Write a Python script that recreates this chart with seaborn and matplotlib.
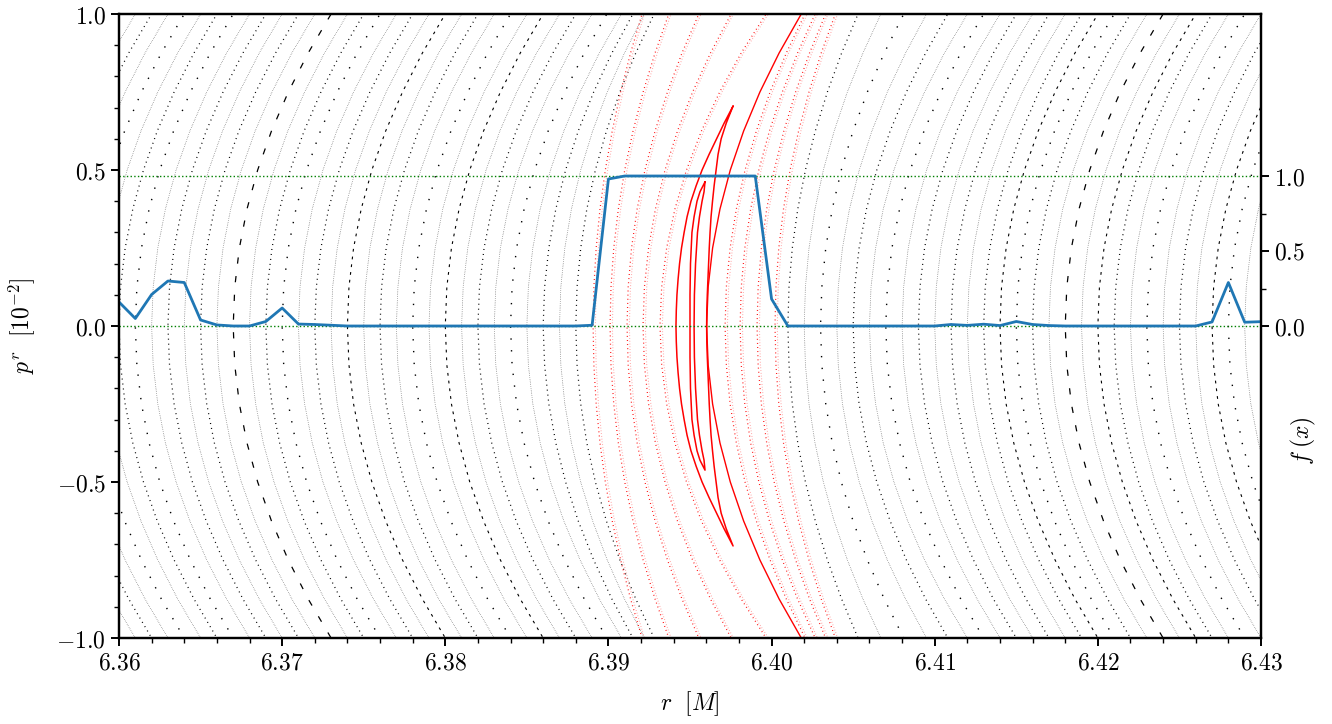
import numpy as np
import pandas as pd
import matplotlib
matplotlib.use("Agg")
import matplotlib.pyplot as plt
from matplotlib.ticker import MultipleLocator, FixedLocator, FuncFormatter
import seaborn as sns

# f(x) at the starting radius of each orbit (r = 6.360 ... 6.430)
f_r = [6.360, 6.361, 6.362, 6.363, 6.364, 6.365, 6.366, 6.367, 6.368, 6.369,
       6.370, 6.371, 6.372, 6.373, 6.374, 6.375, 6.376, 6.377, 6.378, 6.379,
       6.380, 6.381, 6.382, 6.383, 6.384, 6.385, 6.386, 6.387, 6.388, 6.389,
       6.390, 6.391, 6.392, 6.393, 6.394, 6.395, 6.396, 6.397, 6.398, 6.399,
       6.400, 6.401, 6.402, 6.403, 6.404, 6.405, 6.406, 6.407, 6.408, 6.409,
       6.410, 6.411, 6.412, 6.413, 6.414, 6.415, 6.416, 6.417, 6.418, 6.419,
       6.420, 6.421, 6.422, 6.423, 6.424, 6.425, 6.426, 6.427, 6.428, 6.429,
       6.430]
f_val = [0.16, 0.05, 0.21, 0.30, 0.29, 0.04, 0.007, 0.0, 0.0, 0.03,
         0.12, 0.013, 0.01, 0.005, 0.0, 0.0, 0.0, 0.0, 0.0, 0.0,
         0.0, 0.0, 0.0, 0.0, 0.0, 0.0, 0.0, 0.0, 0.0, 0.005,
         0.98, 1.0, 1.0, 1.0, 1.0, 1.0, 1.0, 1.0, 1.0, 1.0,
         0.18, 0.0, 0.0, 0.0, 0.0, 0.0, 0.0, 0.0, 0.0, 0.0,
         0.0, 0.01, 0.004, 0.012, 0.003, 0.03, 0.01, 0.003, 0.0, 0.0,
         0.0, 0.0, 0.0, 0.0, 0.0, 0.0, 0.0, 0.027, 0.29, 0.025,
         0.029]

# relative bend of an invariant curve against p^r (1 at p^r = +-1)
shape_p = [-1.1, -1.0, -0.875, -0.75, -0.625, -0.5, -0.375, -0.25, -0.125, 0.0,
           0.125, 0.25, 0.375, 0.5, 0.625, 0.75, 0.875, 1.0, 1.1]
shape_rel = [1.21, 1.0, 0.766, 0.563, 0.391, 0.25, 0.141, 0.063, 0.016, 0.0,
             0.016, 0.063, 0.141, 0.25, 0.391, 0.563, 0.766, 1.0, 1.21]

# regular (black) orbits: radius at p^r = 0 and shift in r at p^r = +-1
black_r0 = [6.355, 6.356, 6.357, 6.358, 6.359, 6.360, 6.361, 6.362, 6.363, 6.364,
            6.365, 6.366, 6.367, 6.368, 6.369, 6.370, 6.371, 6.372, 6.373, 6.374,
            6.375, 6.376, 6.377, 6.378, 6.379, 6.380, 6.381, 6.382, 6.383, 6.384,
            6.385, 6.386, 6.387, 6.388,
            6.401, 6.402, 6.403, 6.404, 6.405, 6.406, 6.407, 6.408, 6.409, 6.410,
            6.411, 6.412, 6.413, 6.414, 6.415, 6.416, 6.417, 6.418, 6.419, 6.420,
            6.421, 6.422, 6.423, 6.424, 6.425, 6.426, 6.427, 6.428, 6.429, 6.430]
black_bow = [0.0060, 0.0060, 0.0060, 0.0060, 0.0060, 0.0060, 0.0060, 0.0060, 0.0060, 0.0060,
             0.0060, 0.0060, 0.0060, 0.0060, 0.0060, 0.0060, 0.0060, 0.0060, 0.0060, 0.0060,
             0.0060, 0.0060, 0.0060, 0.0060, 0.0060, 0.0060, 0.0060, 0.0060, 0.0060, 0.0059,
             0.0058, 0.0055, 0.0052, 0.0048,
             0.0043, 0.0047, 0.0051, 0.0055, 0.0058, 0.0060, 0.0060, 0.0060, 0.0060, 0.0060,
             0.0060, 0.0060, 0.0060, 0.0060, 0.0060, 0.0060, 0.0060, 0.0060, 0.0060, 0.0060,
             0.0060, 0.0060, 0.0060, 0.0060, 0.0060, 0.0060, 0.0060, 0.0060, 0.0060, 0.0060]
# how the points of each orbit look: f=fine, d=dots, s=sparse, m=dashes, l=long dashes
black_kind = list("fdfsfdsfdfdflfdsfdfmfdfsfmfdfsfdfd"
                  "dfsfdfsfdfdfdmsdflfmdfsfdfmsfd")

# orbits inside the resonance (red strands)
red_dot_r0 = [6.38906, 6.39010, 6.39114, 6.39212, 6.39316,
              6.39715, 6.39807, 6.39911, 6.40021]
red_dot_bow = [0.0030, 0.0036, 0.0044, 0.0054, 0.0065,
               0.0049, 0.0046, 0.0042, 0.0037]
red_line_r0 = [6.39602]
red_line_bow = [0.0058]

# island orbits: sides of each crescent from the upper tip down to p^r = 0
outer_p = [0.705, 0.65, 0.60, 0.55, 0.50, 0.45, 0.40, 0.35, 0.30, 0.25, 0.20, 0.15, 0.10, 0.05, 0.0]
outer_left = [6.39764, 6.39709, 6.39663, 6.39617, 6.39574, 6.39538, 6.39506, 6.39482,
              6.39464, 6.39448, 6.39436, 6.39427, 6.39420, 6.39416, 6.39414]
outer_right = [6.39764, 6.39722, 6.39691, 6.39672, 6.39660, 6.39648, 6.39638, 6.39629,
               6.39623, 6.39618, 6.39614, 6.39610, 6.39606, 6.39603, 6.39602]
inner_p = [0.462, 0.43, 0.40, 0.35, 0.30, 0.20, 0.10, 0.0]
inner_left = [6.39592, 6.39561, 6.39543, 6.39525, 6.39512, 6.39503, 6.39500, 6.39500]
inner_right = [6.39592, 6.39586, 6.39574, 6.39558, 6.39546, 6.39534, 6.39527, 6.39525]


def curves_frame(r0_list, bows, kinds, offset=0.0):
    rows = []
    for i, (r0, bow, k) in enumerate(zip(r0_list, bows, kinds)):
        for p, rel in zip(shape_p, shape_rel):
            rows.append({"orbit": i, "kind": k, "r": r0 + bow * rel + offset, "p": p})
    return pd.DataFrame(rows)


def crescent(ps, left, right):
    # closed loop: left side top->bottom, right side bottom->top
    p_l = list(ps) + [-v for v in ps[::-1][1:]]
    r_l = list(left) + list(left[::-1][1:])
    p_r = [-v for v in ps] + list(ps[::-1][1:])
    r_r = list(right) + list(right[::-1][1:])
    return pd.DataFrame({"r": r_l + r_r, "p": p_l + p_r})


sns.set_theme(style="ticks")
plt.rcParams["mathtext.fontset"] = "cm"
plt.rcParams["font.family"] = ["DejaVu Serif"]
plt.rcParams["axes.labelcolor"] = "black"
plt.rcParams["text.color"] = "black"
plt.rcParams["axes.linewidth"] = 1.6
plt.rcParams["xtick.major.width"] = 1.4
plt.rcParams["ytick.major.width"] = 1.4
plt.rcParams["xtick.minor.width"] = 1.0
plt.rcParams["ytick.minor.width"] = 1.0
plt.rcParams["xtick.major.size"] = 6
plt.rcParams["ytick.major.size"] = 6
plt.rcParams["xtick.minor.size"] = 3.5
plt.rcParams["ytick.minor.size"] = 3.5
plt.rcParams["xtick.color"] = "black"
plt.rcParams["ytick.color"] = "black"
plt.rcParams["axes.edgecolor"] = "black"

fig = plt.figure(figsize=(13.32, 7.24), dpi=100)
ax = fig.add_axes([119 / 1332, 1 - 638 / 724, 1142 / 1332, 624 / 724])

# black invariant curves
kind_color = {"f": "0.2", "d": "black", "s": "black", "m": "black", "l": "black"}
kind_dash = {"f": (0.6, 1.8), "d": (0.8, 3.2), "s": (1.0, 7.5), "m": (2.5, 4.5), "l": (5.0, 10.0)}
kind_lw = {"f": 0.55, "d": 0.9, "s": 1.0, "m": 0.8, "l": 0.9}
black_df = curves_frame(black_r0, black_bow, black_kind)
sns.lineplot(data=black_df, x="r", y="p", units="orbit", estimator=None, sort=False,
             hue="kind", style="kind", size="kind", palette=kind_color,
             dashes=kind_dash, sizes=kind_lw, legend=False, ax=ax)

# red orbits in the resonance: strong dots and a faint companion strand
red_df = curves_frame(red_dot_r0, red_dot_bow, ["r"] * len(red_dot_r0))
pink_df = curves_frame(red_dot_r0, red_dot_bow, ["p"] * len(red_dot_r0), offset=0.00014)
sns.lineplot(data=pink_df, x="r", y="p", units="orbit", estimator=None, sort=False,
             color="#ff9b9b", lw=0.8, linestyle=(0, (0.7, 1.8)), ax=ax)
sns.lineplot(data=red_df, x="r", y="p", units="orbit", estimator=None, sort=False,
             color="red", lw=0.9, linestyle=(0, (0.7, 2.6)), ax=ax)
line_df = curves_frame(red_line_r0, red_line_bow, ["l"])
sns.lineplot(data=line_df, x="r", y="p", units="orbit", estimator=None, sort=False,
             color="red", lw=1.0, ax=ax)
for ps, left, right in [(outer_p, outer_left, outer_right), (inner_p, inner_left, inner_right)]:
    sns.lineplot(data=crescent(ps, left, right), x="r", y="p", sort=False, estimator=None,
                 color="red", lw=1.1, ax=ax)

ax.set_xlim(6.36, 6.43)
ax.set_ylim(-1.0, 1.0)
ax.xaxis.set_major_locator(MultipleLocator(0.01))
ax.xaxis.set_minor_locator(MultipleLocator(0.002))
ax.yaxis.set_major_locator(MultipleLocator(0.5))
ax.yaxis.set_minor_locator(MultipleLocator(0.1))
ax.xaxis.set_major_formatter(FuncFormatter(lambda v, _: f"${v:.2f}$"))
ax.yaxis.set_major_formatter(FuncFormatter(lambda v, _: f"${v:.1f}$"))
ax.tick_params(axis="both", which="both", direction="out", labelsize=17, top=False, right=False)
ax.set_xlabel(r"$r\ \ [M]$", fontsize=17, labelpad=11)
ax.set_ylabel(r"$p^r\ \ [10^{-2}]$", fontsize=17, labelpad=14)

# f(x) on the right axis
ax2 = ax.twinx()
ax2.axhline(0.0, color="green", ls=":", lw=1.0)
ax2.axhline(1.0, color="green", ls=":", lw=1.0)
sns.lineplot(x=f_r, y=f_val, color="#1f77b4", lw=2.0, ax=ax2)
ax2.set_ylim(-2.08, 2.08)
ax2.set_yticks([0.0, 0.5, 1.0])
ax2.yaxis.set_minor_locator(FixedLocator([0.25, 0.75]))
ax2.yaxis.set_major_formatter(FuncFormatter(lambda v, _: f"${v:.1f}$"))
ax2.tick_params(axis="y", which="both", direction="out", labelsize=17, right=True, left=False)
ax2.set_ylabel(r"$f\;(x)$", fontsize=17)
ax2.yaxis.set_label_coords(1.024, 0.317)
ax2.set_xlim(6.36, 6.43)

for a in (ax, ax2):
    for s in a.spines.values():
        s.set_visible(True)
        s.set_color("black")
        s.set_linewidth(1.6)

fig.savefig("out.png", dpi=100)
